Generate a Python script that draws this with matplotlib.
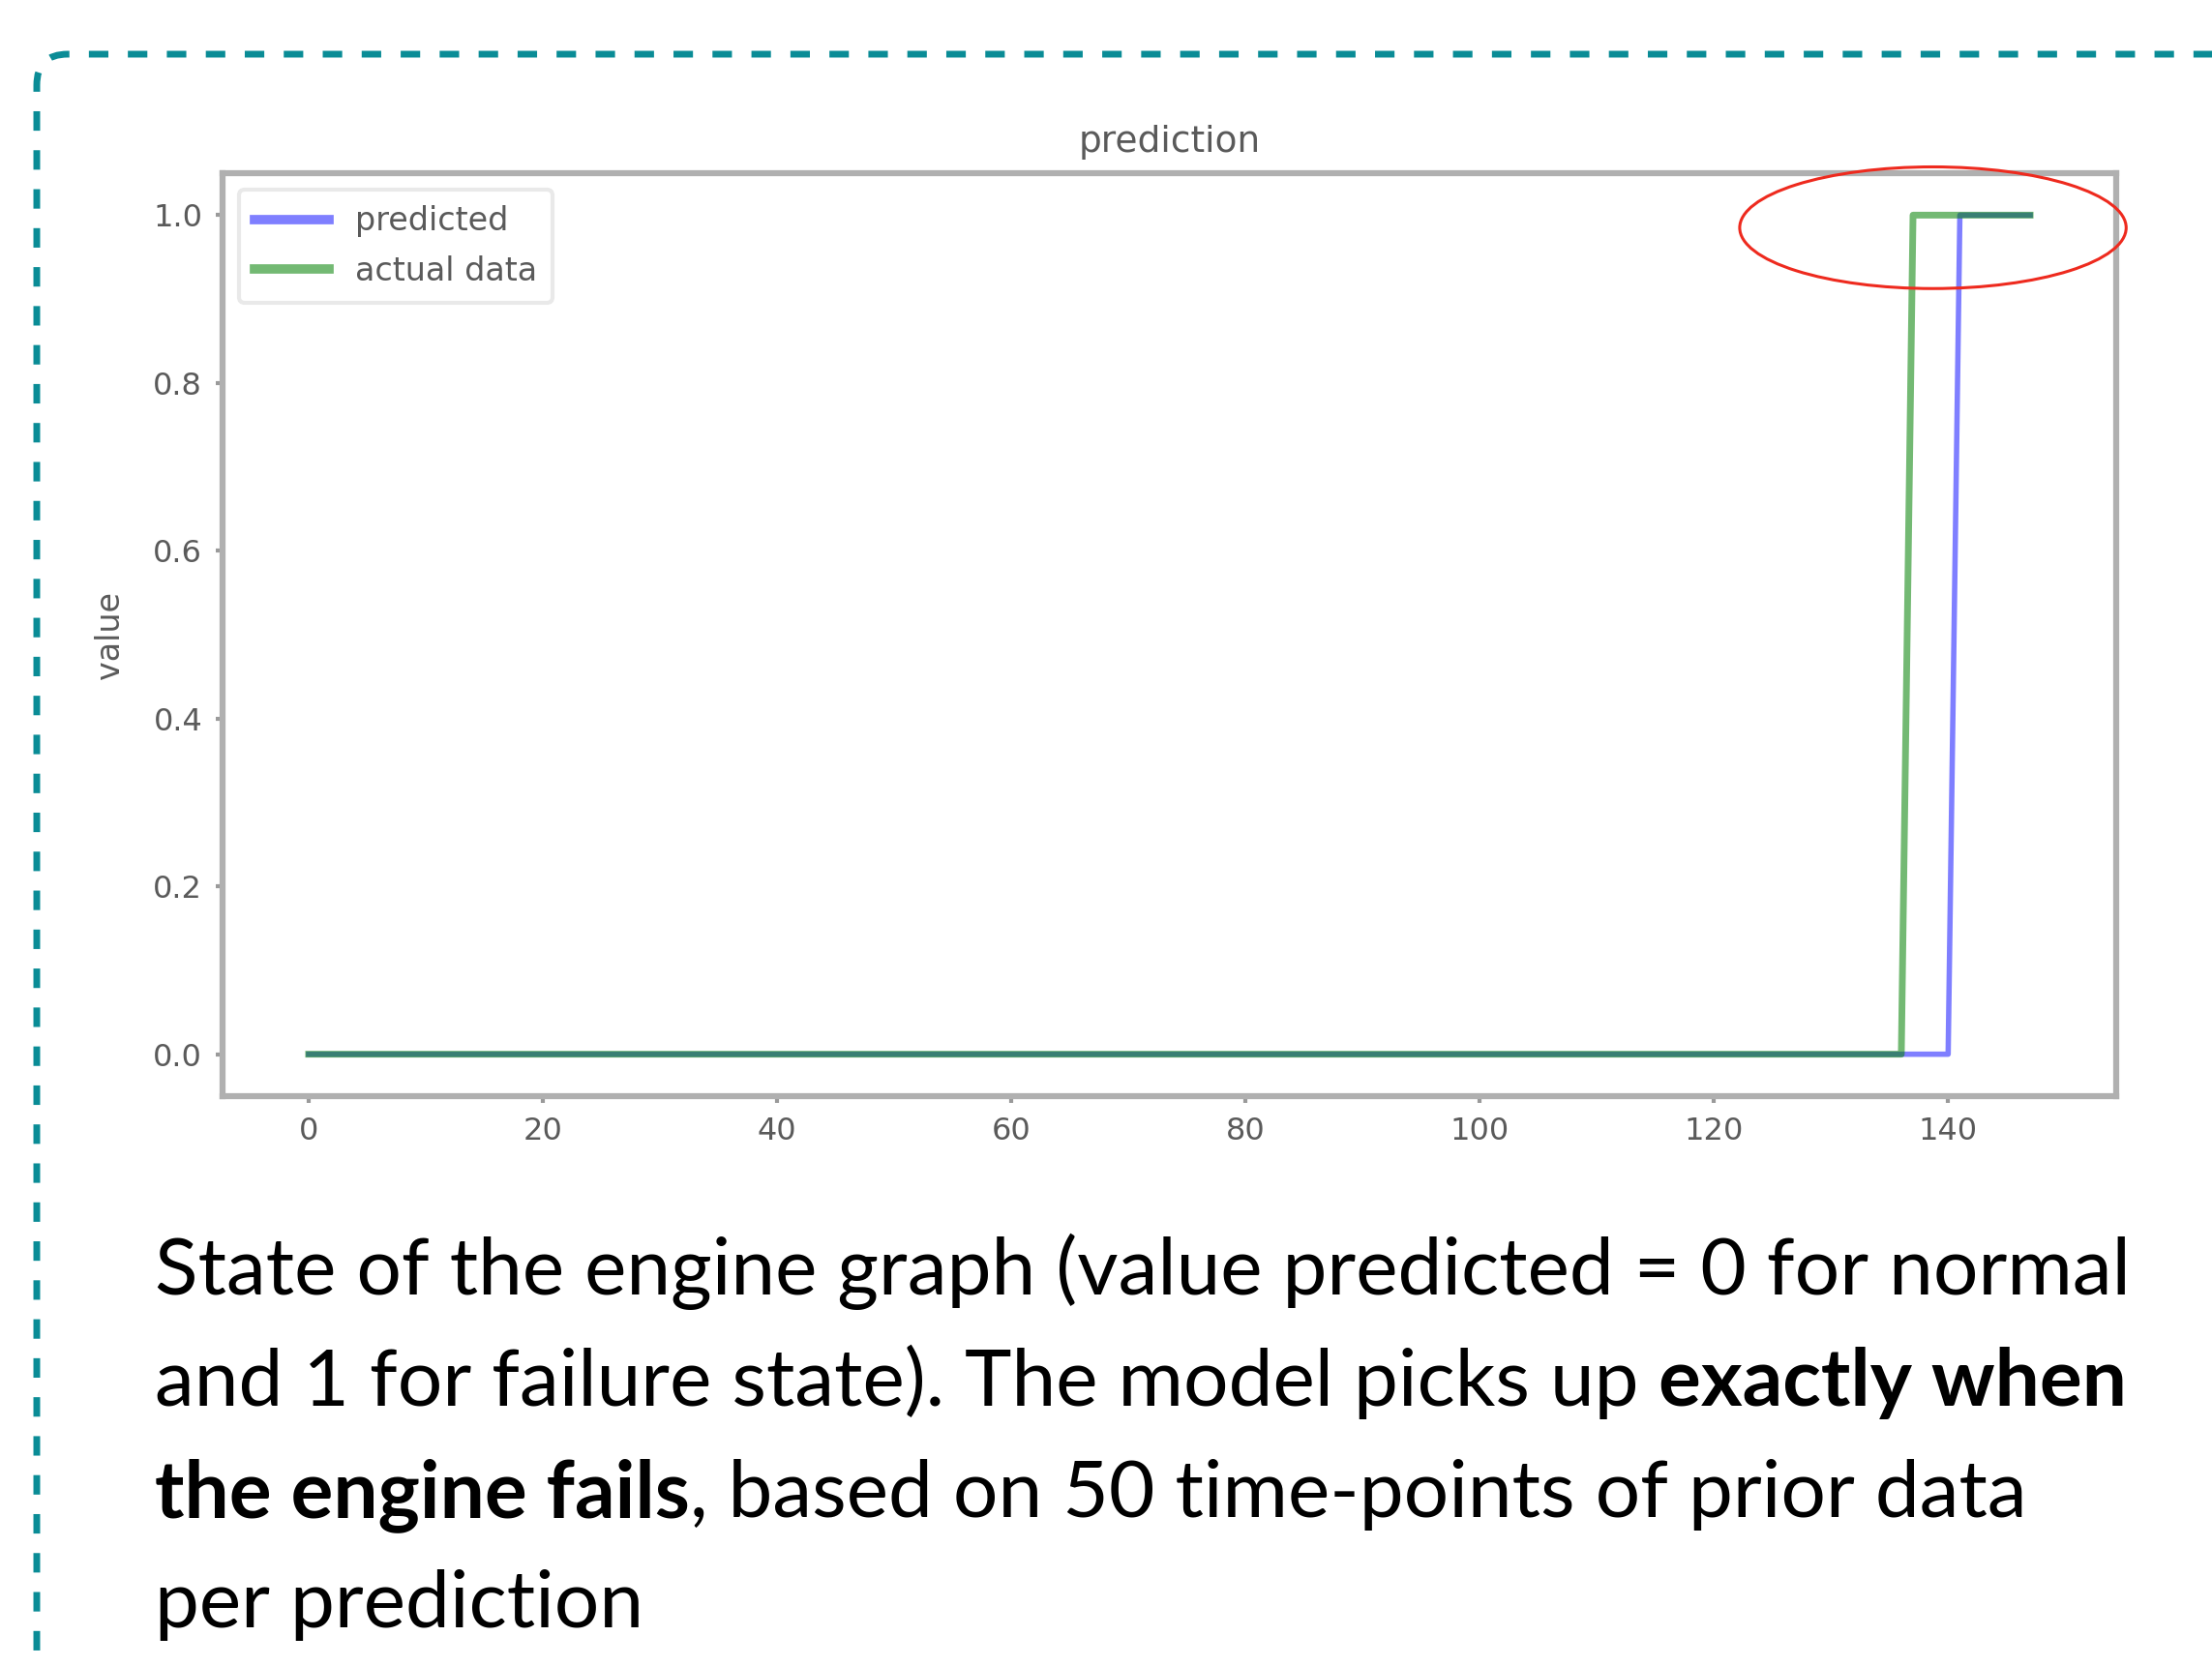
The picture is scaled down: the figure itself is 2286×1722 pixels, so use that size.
import matplotlib
matplotlib.use("Agg")
import matplotlib.pyplot as plt
from matplotlib.patches import Ellipse, FancyBboxPatch

# ── Data ──────────────────────────────────────────────────────────────────────
# engine state per time step: 0 = normal, 1 = failure (148 steps, 0..147)
predicted = [0] * 141 + [1] * 7
actual = [0] * 137 + [1] * 11

x_ticks = [0, 20, 40, 60, 80, 100, 120, 140]
y_ticks = [0.0, 0.2, 0.4, 0.6, 0.8, 1.0]

caption_lines = [
    [("State of the engine graph (value predicted = 0 for normal", "normal")],
    [("and 1 for failure state). The model picks up ", "normal"), ("exactly when", "bold")],
    [("the engine fails", "bold"), (", based on 50 time-points of prior data", "normal")],
    [("per prediction", "normal")],
]

# highlight ellipse around the failure point (data coords)
HILITE_CENTER = (138.7, 0.985)
HILITE_W, HILITE_H = 33.0, 0.145

W, H = 2286, 1722
fig = plt.figure(figsize=(W / 100, H / 100), dpi=100)

# ── Dashed slide frame ────────────────────────────────────────────────────────
frame = FancyBboxPatch(
    (38 / W, -0.2), 1.3, 1.2 - 56 / H,
    boxstyle="round,pad=0,rounding_size=0.014",
    transform=fig.transFigure, fill=False, edgecolor="#0A8C96",
    linewidth=5, linestyle=(0, (2.9, 2.9)), mutation_aspect=W / H,
)
fig.patches.append(frame)

# ── Chart ─────────────────────────────────────────────────────────────────────
ax = fig.add_axes([230 / W, 1 - 1133 / H, (2187 - 230) / W, (1133 - 179) / H])
tick_grey = "#5a5a5a"

ax.plot(predicted, color="blue", alpha=0.5, linewidth=4, label="predicted")
ax.plot(actual, color="green", alpha=0.55, linewidth=5, label="actual data")

ax.set_xticks(x_ticks)
ax.set_yticks(y_ticks)
ax.set_yticklabels([f"{v:.1f}" for v in y_ticks])
ax.tick_params(labelsize=23, colors="#9a9a9a", labelcolor=tick_grey,
               length=5, width=3, pad=10)
for sp in ax.spines.values():
    sp.set_color("#b0b0b0")
    sp.set_linewidth(4.5)

ax.set_title("prediction", fontsize=27, color=tick_grey, pad=16)
ax.set_ylabel("value", fontsize=24, color=tick_grey, labelpad=20)

leg = ax.legend(loc="upper left", fontsize=24, handlelength=2.3,
                frameon=True, borderpad=0.5, labelspacing=0.55)
leg.get_frame().set_edgecolor("#e4e4e4")
leg.get_frame().set_linewidth(3)
for txt in leg.get_texts():
    txt.set_color(tick_grey)
for ln in leg.get_lines():
    ln.set_linewidth(7)

ax.add_patch(Ellipse(HILITE_CENTER, HILITE_W, HILITE_H, fill=False,
                     edgecolor="#EE2A1E", linewidth=2.2, clip_on=False, zorder=5))

# ── Caption with mixed weights ───────────────────────────────────────────────
fig.canvas.draw()
renderer = fig.canvas.get_renderer()
x0 = 160
baselines = [1338, 1453, 1568, 1682]
for line, yb in zip(caption_lines, baselines):
    x = x0
    for chunk, weight in line:
        t = fig.text(x / W, 1 - yb / H, chunk, fontsize=59, family="Lato",
                     fontweight=weight, color="black", va="baseline", ha="left")
        bb = t.get_window_extent(renderer)
        x += bb.width

fig.savefig("out.png", dpi=100)
